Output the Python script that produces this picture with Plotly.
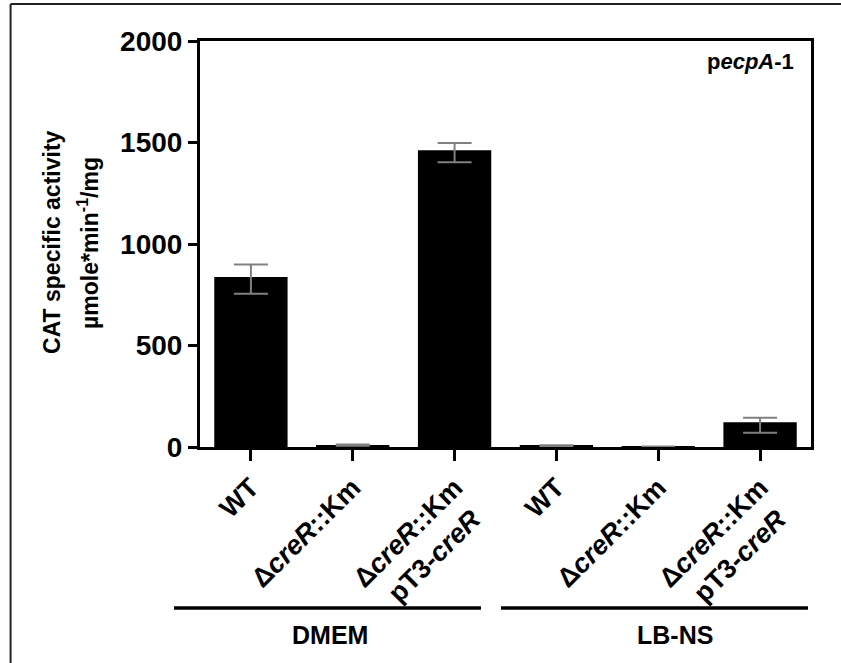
import plotly.graph_objects as go

# ---- data ----
categories = ["WT", "Δ<i>creR</i>::Km", "Δ<i>creR</i>::Km<br>pT3-<i>creR</i>",
              "WT", "Δ<i>creR</i>::Km", "Δ<i>creR</i>::Km<br>pT3-<i>creR</i>"]
values = [838, 9, 1462, 7, 1, 122]
err_plus = [61, 3, 36, 2, 1, 22]
err_minus = [83, 3, 59, 2, 1, 52]
groups = ["DMEM", "LB-NS"]
y_ticks = [0, 500, 1000, 1500, 2000]

FONT = "Liberation Sans, Arial, sans-serif"
xpos = list(range(len(categories)))
# centre the second line of two-line labels (plotly right-aligns angled labels)
PAD = "\u00a0\u200a"
ticktext = [c + PAD if "<br>" in c else c for c in categories]

fig = go.Figure()
fig.add_trace(go.Bar(
    x=xpos, y=values, width=0.72,
    marker=dict(color="black", line=dict(width=0)),
    error_y=dict(type="data", symmetric=False, array=err_plus, arrayminus=err_minus,
                 color="#808080", thickness=2, width=17),
))

fig.update_layout(
    width=841, height=663,
    margin=dict(l=200, r=30, t=41, b=216),
    plot_bgcolor="white", paper_bgcolor="white",
    showlegend=False,
)
fig.update_xaxes(
    range=[-0.5, 5.5], tickmode="array", tickvals=xpos, ticktext=ticktext,
    tickangle=-45, ticks="outside", ticklen=11, tickwidth=3, tickcolor="black",
    showline=True, linewidth=3, linecolor="black", mirror=True,
    showgrid=False, zeroline=False,
    tickfont=dict(family=FONT, size=27, color="black", weight="bold"),
)
fig.update_yaxes(
    range=[0, 2000], tickvals=y_ticks, ticks="outside", ticklen=9, tickwidth=3,
    tickcolor="black", showline=True, linewidth=3, linecolor="black", mirror=True,
    showgrid=False, zeroline=False,
    tickfont=dict(family=FONT, size=28, color="black", weight="bold"),
)

# y-axis title (two lines)
fig.add_annotation(text="<b>CAT specific activity</b>", xref="paper", yref="paper",
                   x=-0.242, y=0.503, textangle=-90, showarrow=False,
                   xanchor="center", yanchor="middle",
                   font=dict(family=FONT, size=23, color="black"))
fig.add_annotation(text="<b>µmole*min<sup>-1</sup>/mg</b>", xref="paper", yref="paper",
                   x=-0.183, y=0.503, textangle=-90, showarrow=False,
                   xanchor="center", yanchor="middle",
                   font=dict(family=FONT, size=23, color="black"))

# inner label
fig.add_annotation(text="<b>p<i>ecpA</i>-1</b>", xref="paper", yref="paper",
                   x=0.976, y=0.95, showarrow=False, xanchor="right", yanchor="middle",
                   font=dict(family=FONT, size=22, color="black"))

# group brackets and labels
group_lines = [(-0.0426, 0.4599), (0.4926, 0.9951)]
group_centers = [0.2128, 0.777]
for g, (x0, x1), xc in zip(groups, group_lines, group_centers):
    fig.add_shape(type="line", xref="paper", yref="paper", x0=x0, x1=x1,
                  y0=-0.3966, y1=-0.3966, line=dict(color="black", width=3.5))
    fig.add_annotation(text=f"<b>{g}</b>", xref="paper", yref="paper", x=xc, y=-0.464,
                       showarrow=False, xanchor="center", yanchor="middle",
                       font=dict(family=FONT, size=25, color="black"))

# outer frame (left and top edges)
fig.add_shape(type="line", xref="paper", yref="paper", x0=-0.310, x1=-0.310,
              y0=1.091, y1=-0.6, line=dict(color="#222", width=2))
fig.add_shape(type="line", xref="paper", yref="paper", x0=-0.310, x1=1.1,
              y0=1.091, y1=1.091, line=dict(color="#222", width=2))

fig.write_html("out.html", config={"displayModeBar": False},
               post_script="document.body.style.margin='0';")
